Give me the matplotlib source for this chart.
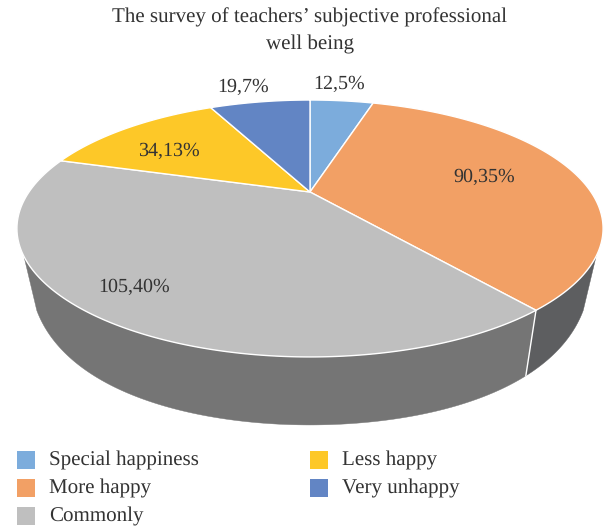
import numpy as np
import matplotlib
matplotlib.use("Agg")
import matplotlib.pyplot as plt
from matplotlib.patches import Rectangle

title = "The survey of teachers\u2019 subjective professional\nwell being"
categories = ["Special happiness", "More happy", "Commonly", "Less happy", "Very unhappy"]
counts = [12, 90, 105, 34, 19]
percents = [5, 35, 40, 13, 7]
colors = ["#7cacdc", "#f2a065", "#bfbfbf", "#fdc828", "#6285c4"]
wall_colors = ["#5d5e60", "#5d5e60", "#757575", "#757575", "#757575"]

plt.rcParams["font.family"] = ["Liberation Serif", "DejaVu Serif"]
plt.rcParams["text.hinting"] = "no_hinting"
plt.rcParams["text.hinting_factor"] = 1
TXT = "#333333"

# perspective of the pie, in pixels of the figure
CX, CY = 310, 192
A, B, K = 281, 118.1, 0.284
SHRINK = 0.955
WALL_START = 256  # the walls only show below this height


def top_face(theta):
    u, v = np.sin(theta), np.cos(theta)
    d = 1 + K * v
    return CX + A * u / d, CY - B * v / d


def bottom_face(theta):
    # lower face: narrower, and the wall gets deeper towards the viewer
    x, y = top_face(theta)
    t = y - 310
    return CX + (x - CX) * SHRINK, y + 65.5 + 0.1276 * t - 0.00158 * t ** 2


fig = plt.figure(figsize=(6.06, 5.28), dpi=100)
ax = fig.add_axes((0, 0, 1, 1))
ax.set_xlim(0, 606)
ax.set_ylim(528, 0)
ax.axis("off")

edges = np.cumsum([0] + counts) / sum(counts) * 2 * np.pi

# side walls first, the top face covers the seam
for i in range(len(counts)):
    th = np.linspace(edges[i], edges[i + 1], 400)
    xt, yt = top_face(th)
    th = th[yt >= WALL_START]
    if len(th) < 2:
        continue
    xt, yt = top_face(th)
    xb, yb = bottom_face(th)
    ax.fill(np.r_[xt, xb[::-1]], np.r_[yt, yb[::-1]], color=wall_colors[i], lw=0.3, zorder=1)

for e in edges:
    xt, yt = top_face(e)
    if yt >= WALL_START:
        xb, yb = bottom_face(e)
        ax.plot([xt, xb], [yt, yb], color="white", lw=1, zorder=2)

for i in range(len(counts)):
    th = np.linspace(edges[i], edges[i + 1], 200)
    x, y = top_face(th)
    ax.fill(np.r_[CX, x], np.r_[CY, y], facecolor=colors[i], edgecolor="white", lw=1,
            joinstyle="round", zorder=3)

label_pos = [(339, 84), (484, 177), (134, 287), (169, 151), (243, 87)]
for c, p, (lx, ly) in zip(counts, percents, label_pos):
    ax.text(lx, ly, f"{c},{p}%", ha="center", va="center", fontsize=14.5, color=TXT, zorder=4)

ax.text(310, 31, title, ha="center", va="center", fontsize=15, color=TXT, linespacing=1.5)

legend_pos = [(17, 460), (17, 488), (17, 516), (310, 460), (310, 488)]
for name, col, (lx, ly) in zip(categories, colors, legend_pos):
    ax.add_patch(Rectangle((lx, ly - 9), 18, 18, facecolor=col, edgecolor="none"))
    ax.text(lx + 32, ly, name, ha="left", va="center", fontsize=14.8, color=TXT)

fig.savefig("out.png", dpi=100)
plt.close(fig)
